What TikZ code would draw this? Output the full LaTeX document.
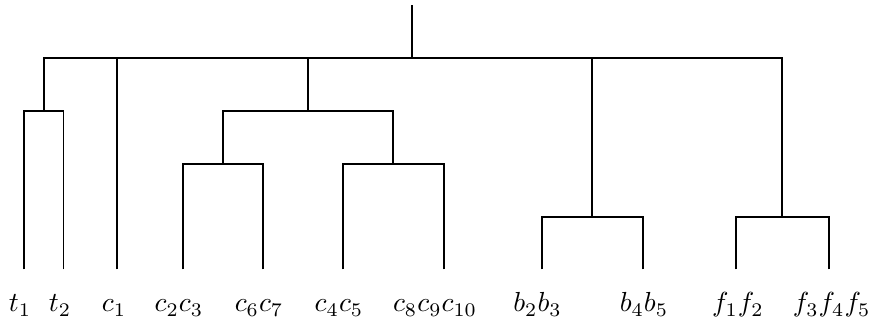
\documentclass[tikz,border=0pt]{standalone}
\usepackage{amssymb}
\usepackage{amsmath}
\usepackage{tikz}

\begin{document}
\begin{tikzpicture}[line width=0.7pt]
  \useasboundingbox (0,0) rectangle (11.097,4.094);

  % Leaves
  \coordinate (t1) at (0.306,0.657);
  \coordinate (t2) at (0.810,0.657);
  \coordinate (c1) at (1.489,0.657);
  \coordinate (c23) at (2.330,0.657);
  \coordinate (c67) at (3.355,0.657);
  \coordinate (c45) at (4.371,0.657);
  \coordinate (c810) at (5.660,0.657);
  \coordinate (b23) at (6.910,0.657);
  \coordinate (b45) at (8.198,0.657);
  \coordinate (f12) at (9.384,0.657);
  \coordinate (f35) at (10.570,0.657);

  % Merges
  \coordinate (tt) at (0.558,2.680);
  \coordinate (cl) at (2.843,2.000);
  \coordinate (cr) at (5.016,2.000);
  \coordinate (cc) at (3.930,2.680);
  \coordinate (bb) at (7.554,1.330);
  \coordinate (ff) at (9.977,1.330);
  \coordinate (root) at (5.255,3.360);
  \coordinate (top) at (5.255,4.030);

  % Labels
  \node[anchor=base] (lt1) at (0.255,0.115) {$t_1$};
  \node[anchor=base] (lt2) at (0.765,0.115) {$t_2$};
  \node[anchor=base] (lc1) at (1.454,0.115) {$c_1$};
  \node[anchor=base] (lc23) at (2.283,0.115) {$c_2c_3$};
  \node[anchor=base] (lc67) at (3.304,0.115) {$c_6c_7$};
  \node[anchor=base] (lc45) at (4.324,0.115) {$c_4c_5$};
  \node[anchor=base] (lc810) at (5.548,0.115) {$c_8c_9c_{10}$};
  \node[anchor=base] (lb23) at (6.856,0.115) {$b_2b_3$};
  \node[anchor=base] (lb45) at (8.214,0.115) {$b_4b_5$};
  \node[anchor=base] (lf12) at (9.413,0.115) {$f_1f_2$};
  \node[anchor=base] (lf35) at (10.608,0.115) {$f_3f_4f_5$};

  % Branches
  \draw (t1) |- (tt); \draw (t2) |- (tt);
  \draw (c23) |- (cl); \draw (c67) |- (cl);
  \draw (c45) |- (cr); \draw (c810) |- (cr);
  \draw (cl) |- (cc); \draw (cr) |- (cc);
  \draw (b23) |- (bb); \draw (b45) |- (bb);
  \draw (f12) |- (ff); \draw (f35) |- (ff);
  \draw (tt) |- (root); \draw (c1) |- (root); \draw (cc) |- (root);
  \draw (bb) |- (root); \draw (ff) |- (root);
  \draw (root) -- (top);
\end{tikzpicture}
\end{document}
